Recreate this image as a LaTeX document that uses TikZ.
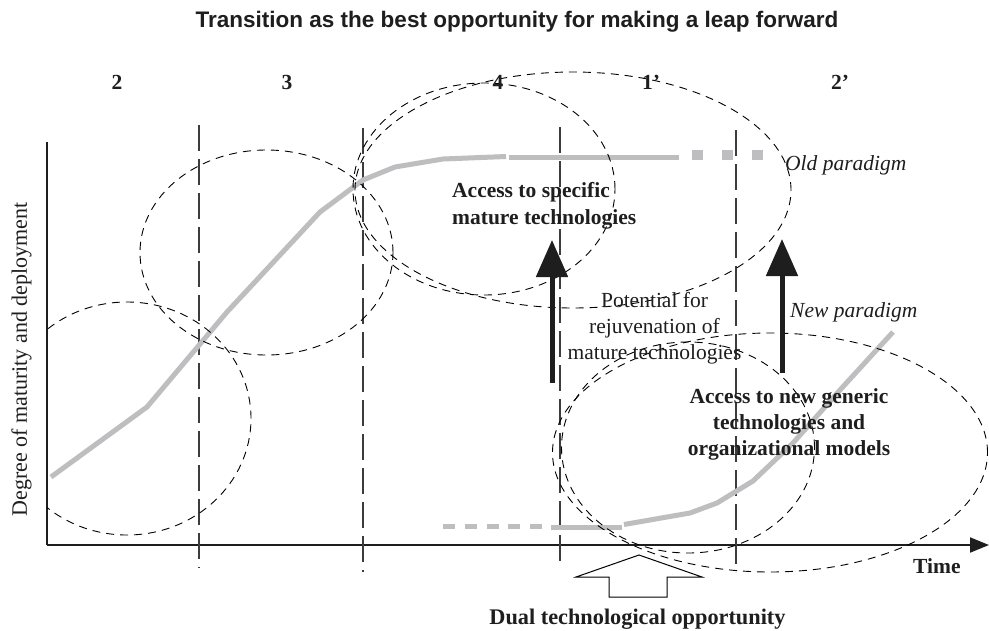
\documentclass[tikz,border=0pt]{standalone}
\usepackage{fontspec}
\setmainfont{Liberation Serif}
\newfontfamily\titlefont{Liberation Sans}
\usetikzlibrary{arrows.meta}
\definecolor{curvegray}{RGB}{190,190,192}
\definecolor{vgray}{RGB}{60,60,60}
\definecolor{ink}{RGB}{30,30,30}
\begin{document}
\begin{tikzpicture}[x=1pt,y=-1pt,
  lbl/.style={inner sep=0pt, text=ink, font=\fontsize{21.5}{27}\selectfont},
  bl/.style={inner sep=0pt, text=ink, font=\fontsize{21.5}{27}\selectfont\bfseries},
  itl/.style={inner sep=0pt, text=ink, font=\fontsize{21.5}{27}\selectfont\itshape},
  titletext/.style={inner sep=0pt, text=ink, font=\fontsize{22.5}{27}\selectfont\titlefont\bfseries},
  zone/.style={draw=black, line width=0.9pt, dash pattern=on 8pt off 6pt},
  divider/.style={draw=vgray, line width=1.3pt, dash pattern=on 26pt off 8pt},
  maturecurve/.style={draw=curvegray, line width=5pt, line join=round},
  axisline/.style={draw=ink, line width=2pt},
  bigarrow/.style={draw=ink, line width=5pt, -{Triangle[length=37pt,width=31pt]}},
  hollowarrow/.style={draw=black, line width=1pt, fill=white},
  sq/.style={fill=curvegray}
]
\fill[white] (0,0) rectangle (989,630);
\useasboundingbox (0,0) rectangle (989,630);

% axes
\coordinate (ytop) at (47,142);
\coordinate (origin) at (47,545);
\coordinate (xend) at (989,545);
\draw[axisline] (ytop) -- (origin);
\draw[axisline, -{Triangle[length=19pt,width=15pt]}] (origin) -- (xend);

% phase dividers
\coordinate (d1t) at (199,125); \coordinate (d1b) at (199,568);
\coordinate (d2t) at (363,128); \coordinate (d2b) at (363,572);
\coordinate (d3t) at (560,127); \coordinate (d3b) at (560,568);
\coordinate (d4t) at (736,130); \coordinate (d4b) at (736,572);
\draw[divider] (d1t) -- (d1b);
\draw[divider] (d2t) -- (d2b);
\draw[divider] (d3t) -- (d3b);
\draw[divider] (d4t) -- (d4b);

% old paradigm curve
\draw[maturecurve] (51,477) -- (147,407) -- (227,312) -- (320,212) -- (363,180) -- (395,167) -- (443,159) -- (506,156.5);
\draw[maturecurve] (509,157) -- (679,157);
\fill[sq] (692,150) rectangle (703,160);
\fill[sq] (722,150) rectangle (733,160);
\fill[sq] (752,150) rectangle (763,160);

% new paradigm curve
\draw[maturecurve, dash pattern=on 12pt off 9.75pt] (443,526.5) -- (542,526.5);
\draw[maturecurve] (551,527.5) -- (622,527.5);
\draw[maturecurve] (624,524.5) -- (690,513) -- (717,503) -- (753,481) -- (793,443) -- (840,390) -- (893,332);

% ellipses
\begin{scope}
  \clip (47,0) rectangle (989,630);
  \draw[zone] (127,418.5) ellipse [x radius=124pt, y radius=116.5pt];
\end{scope}
\draw[zone] (266.5,252.5) ellipse [x radius=126.5pt, y radius=102.5pt];
\draw[zone] (484,189) ellipse [x radius=131pt, y radius=106pt];
\draw[zone] (573,190) ellipse [x radius=218pt, y radius=118pt];
\draw[zone] (688,447.5) ellipse [x radius=126.5pt, y radius=105.5pt];
\draw[zone] (770,452.5) ellipse [x radius=217.5pt, y radius=119.5pt];

% black arrows
\coordinate (a1s) at (552,383); \coordinate (a1t) at (552,240);
\coordinate (a2s) at (782,373); \coordinate (a2t) at (782,239);
\draw[bigarrow] (a1s) -- (a1t);
\draw[bigarrow] (a2s) -- (a2t);

% hollow arrow
\coordinate (ha) at (639,555);
\draw[hollowarrow] (ha) -- ++(63,22) -- ++(-35,0) -- ++(0,20) -- ++(-58,0) -- ++(0,-20) -- ++(-33,0) -- cycle;

% texts
\node[titletext, anchor=base] (title) at (517,27) {Transition as the best opportunity for making a leap forward};
\node[bl, anchor=base] (p2) at (117,89) {2};
\node[bl, anchor=base] (p3) at (287,89) {3};
\node[bl, anchor=base] (p4) at (498,89) {4};
\node[bl, anchor=base] (p1b) at (651,89) {1’};
\node[bl, anchor=base] (p2b) at (840,89) {2’};

\node[bl, anchor=base west] (spec1) at (452,197) {Access to specific};
\node[bl, anchor=base west] (spec2) at (452,224) {mature technologies};

\node[lbl, anchor=base] (pot1) at (654.5,307) {Potential for};
\node[lbl, anchor=base] (pot2) at (654.5,333) {rejuvenation of};
\node[lbl, anchor=base] (pot3) at (654.5,359) {mature technologies};

\node[itl, anchor=base west] (oldp) at (785,170) {Old paradigm};
\node[itl, anchor=base west] (newp) at (790,317) {New paradigm};

\node[bl, anchor=base] (gen1) at (789,403) {Access to new generic};
\node[bl, anchor=base] (gen2) at (789,429) {technologies and};
\node[bl, anchor=base] (gen3) at (789,455) {organizational models};

\node[bl, anchor=base west] (time) at (913,573) {Time};
\node[bl, anchor=base, font=\fontsize{22.3}{27}\selectfont\bfseries] (dual) at (637.5,624) {Dual technological opportunity};

\node[lbl, anchor=base, rotate=90, font=\fontsize{22}{27}\selectfont] (ylab) at (27,359.5) {Degree of maturity and deployment};
\end{tikzpicture}
\end{document}
